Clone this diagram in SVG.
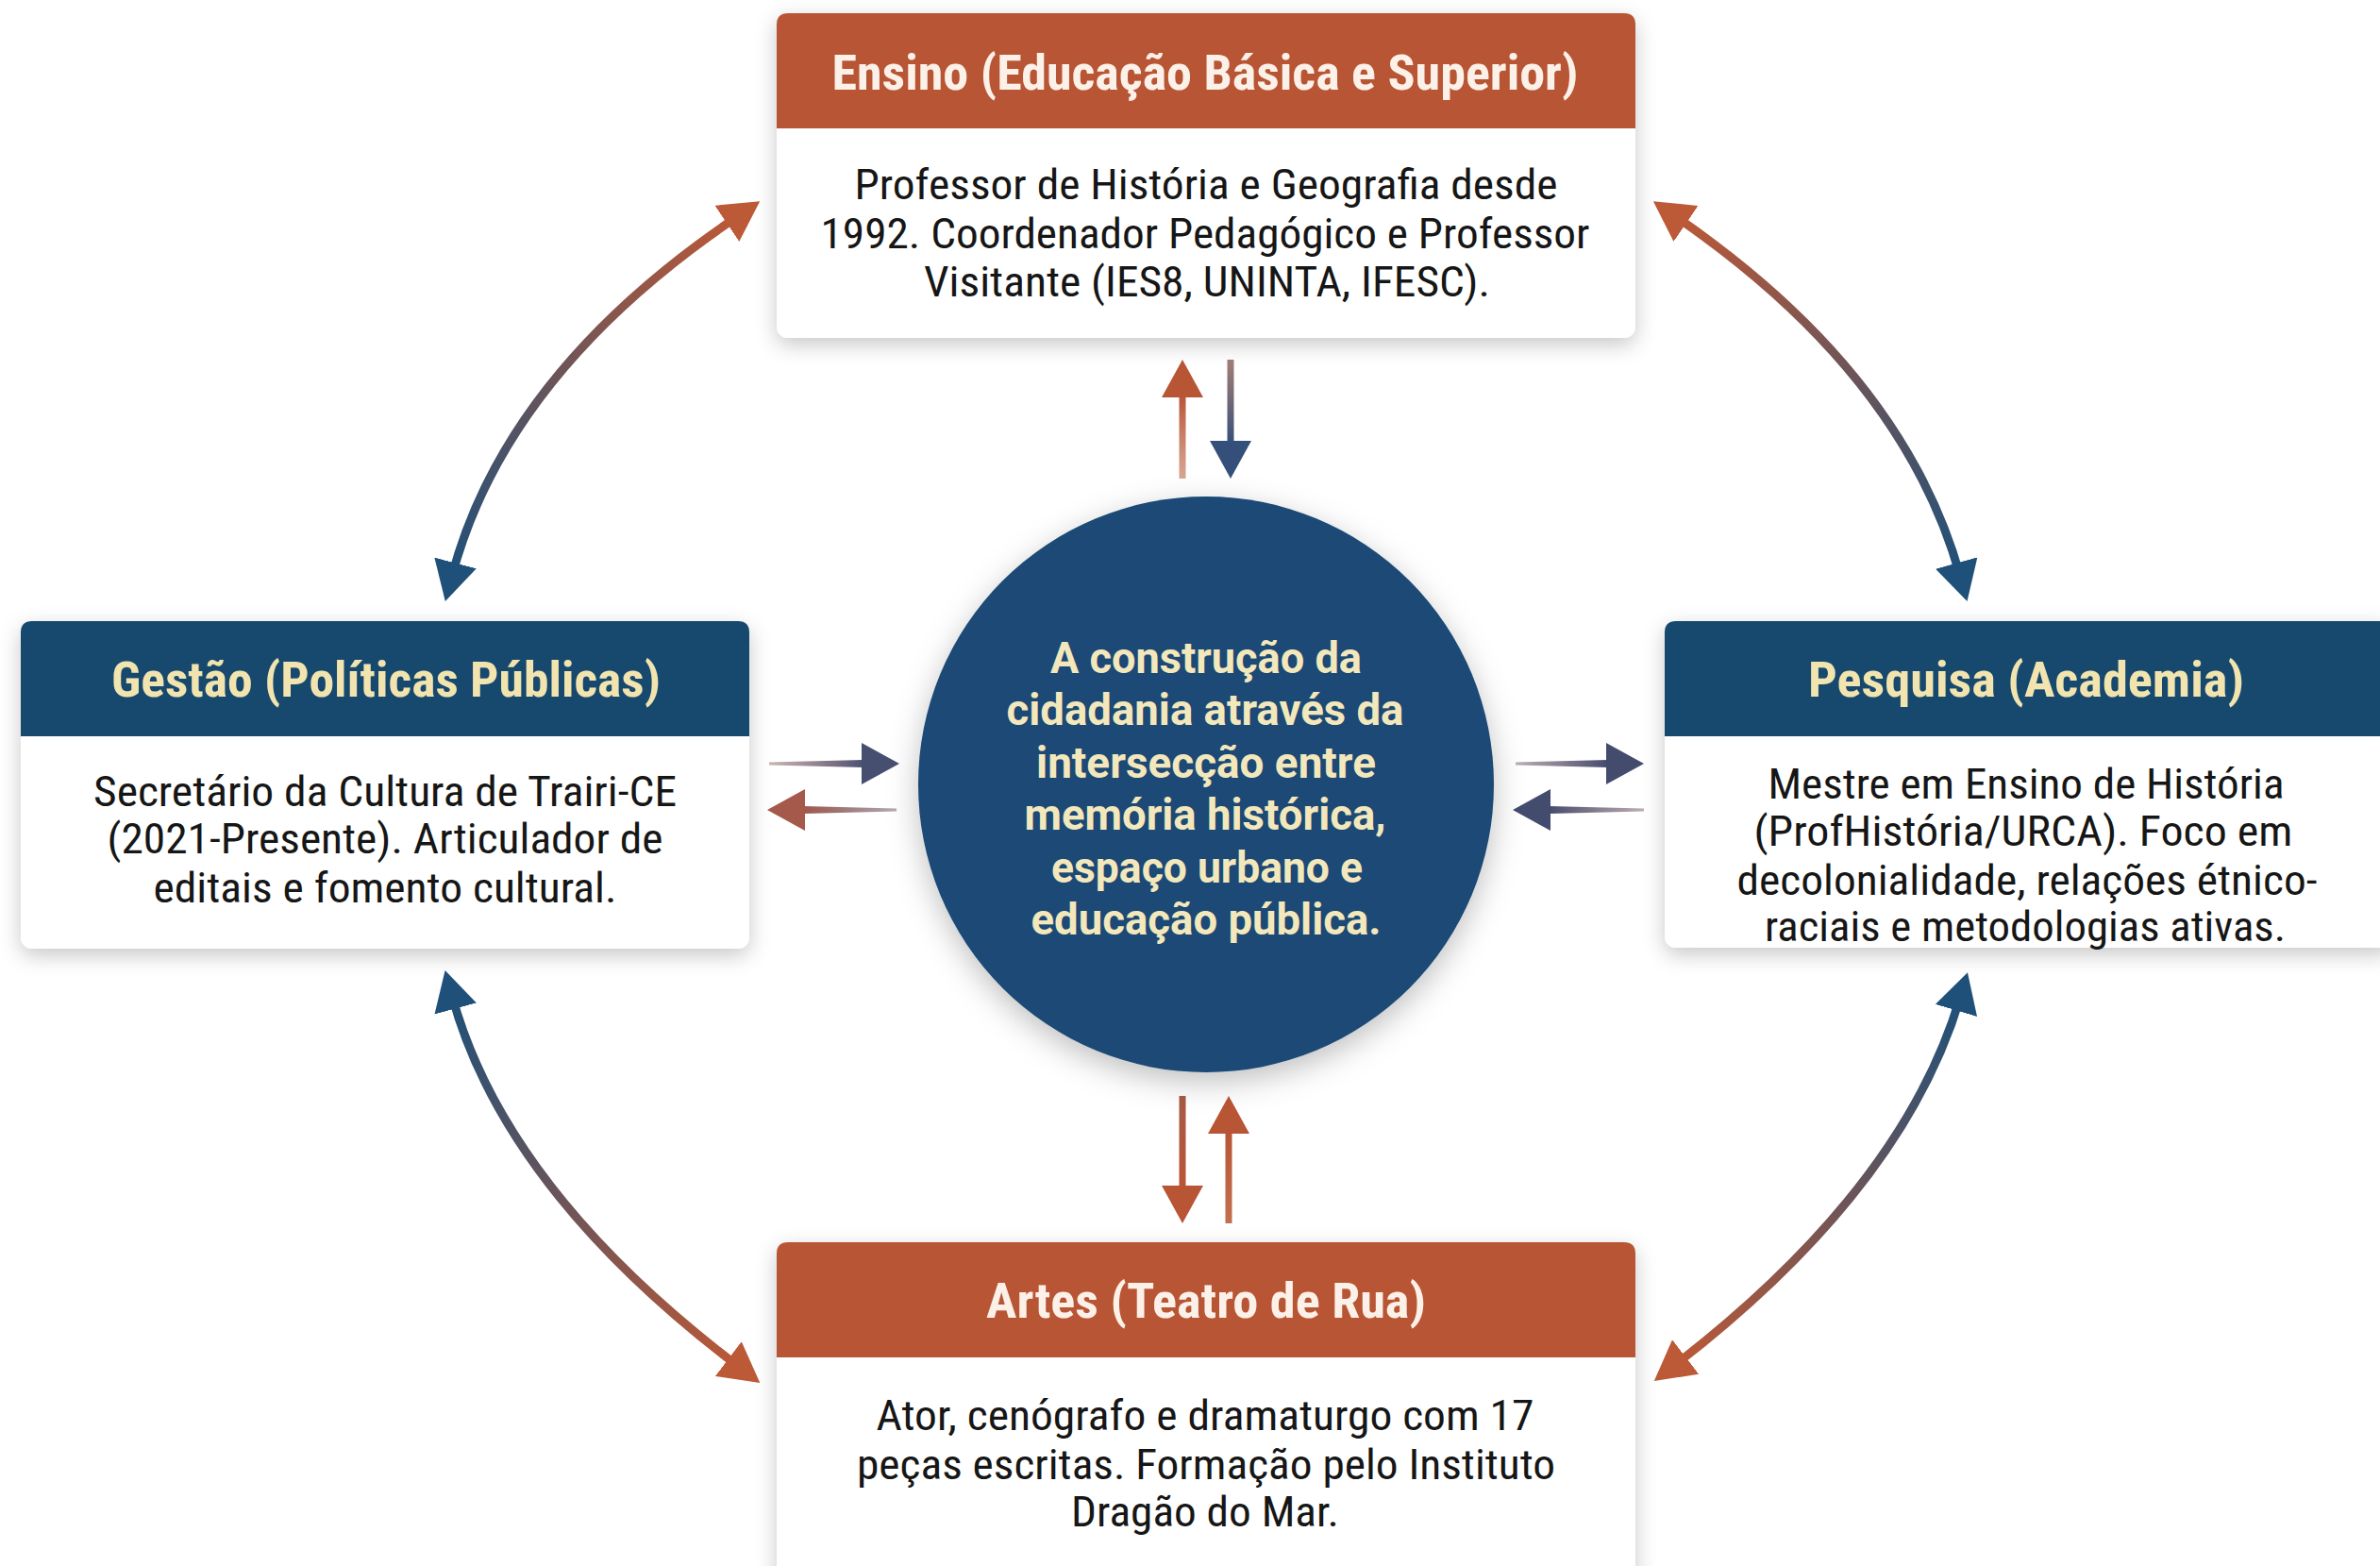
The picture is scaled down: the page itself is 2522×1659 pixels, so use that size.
<svg xmlns="http://www.w3.org/2000/svg" width="2522" height="1659" viewBox="0 0 2522 1659">
<defs>
<style>
.t{font-family:"Roboto Condensed","Liberation Sans Narrow",Roboto,"Liberation Sans",sans-serif;font-weight:700;font-size:52px;text-anchor:middle}
.tw{fill:#FCF1E8}
.tc{fill:#F2E4AF}
.b{font-family:"Roboto Condensed","Liberation Sans Narrow",Roboto,"Liberation Sans",sans-serif;font-weight:400;font-size:44px;fill:#161616;text-anchor:middle}
.c{font-family:Roboto,"Liberation Sans",sans-serif;font-weight:700;font-size:46px;fill:#F3E7BC;text-anchor:middle}
.card{fill:#FFFFFF;filter:url(#sh)}
.ho{fill:#B85535}
.hb{fill:#17496F}
.arc{fill:none;stroke-width:9;marker-start:url(#mb);marker-end:url(#mo)}
</style>
<filter id="sh" x="-10%" y="-10%" width="120%" height="130%">
<feDropShadow dx="0" dy="7" stdDeviation="11" flood-color="#000" flood-opacity="0.22"/>
</filter>
<filter id="shc" x="-20%" y="-20%" width="140%" height="140%">
<feDropShadow dx="0" dy="10" stdDeviation="16" flood-color="#000" flood-opacity="0.25"/>
</filter>
<marker id="mb" markerUnits="userSpaceOnUse" markerWidth="42" markerHeight="46" viewBox="0 0 42 46" refX="14" refY="23" orient="auto-start-reverse">
<path d="M0,0 L42,23 L0,46 z" fill="#1F5079"/>
</marker>
<marker id="mo" markerUnits="userSpaceOnUse" markerWidth="42" markerHeight="46" viewBox="0 0 42 46" refX="14" refY="23" orient="auto-start-reverse">
<path d="M0,0 L42,23 L0,46 z" fill="#BC5937"/>
</marker>
<linearGradient id="g1" gradientUnits="userSpaceOnUse" x1="479" y1="610" x2="782" y2="229"><stop offset="0" stop-color="#1F5079"/><stop offset="1" stop-color="#BC5937"/></linearGradient>
<linearGradient id="g2" gradientUnits="userSpaceOnUse" x1="2077" y1="610" x2="1775" y2="229"><stop offset="0" stop-color="#1F5079"/><stop offset="1" stop-color="#BC5937"/></linearGradient>
<linearGradient id="g3" gradientUnits="userSpaceOnUse" x1="479" y1="1055" x2="783" y2="1448"><stop offset="0" stop-color="#1F5079"/><stop offset="1" stop-color="#BC5937"/></linearGradient>
<linearGradient id="g4" gradientUnits="userSpaceOnUse" x1="2077" y1="1057" x2="1775" y2="1446"><stop offset="0" stop-color="#1F5079"/><stop offset="1" stop-color="#BC5937"/></linearGradient>
<linearGradient id="vo" x1="0" y1="0" x2="0" y2="1"><stop offset="0" stop-color="#B85535"/><stop offset="1" stop-color="#C98870" stop-opacity="0.75"/></linearGradient>
<linearGradient id="vb" x1="0" y1="0" x2="0" y2="1"><stop offset="0" stop-color="#8A5E55" stop-opacity="0.8"/><stop offset="1" stop-color="#34507A"/></linearGradient>
<linearGradient id="vo2" x1="0" y1="0" x2="0" y2="1"><stop offset="0" stop-color="#A65A47"/><stop offset="1" stop-color="#B85535"/></linearGradient>
<linearGradient id="vo3" x1="0" y1="0" x2="0" y2="1"><stop offset="0" stop-color="#B85535"/><stop offset="1" stop-color="#C2704F"/></linearGradient>
<linearGradient id="hr" x1="0" y1="0" x2="1" y2="0"><stop offset="0" stop-color="#8A5A5A" stop-opacity="0.45"/><stop offset="1" stop-color="#4A5072"/></linearGradient>
<linearGradient id="hl" x1="0" y1="0" x2="1" y2="0"><stop offset="0" stop-color="#A05848"/><stop offset="1" stop-color="#5A4458" stop-opacity="0.45"/></linearGradient>
<linearGradient id="hr2" x1="0" y1="0" x2="1" y2="0"><stop offset="0" stop-color="#6A4A5E" stop-opacity="0.45"/><stop offset="1" stop-color="#434C6D"/></linearGradient>
<linearGradient id="hl2" x1="0" y1="0" x2="1" y2="0"><stop offset="0" stop-color="#434C6D"/><stop offset="1" stop-color="#6A4A58" stop-opacity="0.45"/></linearGradient>
</defs>

<rect x="0" y="0" width="2522" height="1659" fill="#FFFFFF"/>

<g id="connectors">
<path class="arc" stroke="url(#g1)" d="M479,610 Q536,395 782,229"/>
<path class="arc" stroke="url(#g2)" d="M2077,610 Q2017,395 1775,229"/>
<path class="arc" stroke="url(#g3)" d="M479,1055 Q535,1260 783,1448"/>
<path class="arc" stroke="url(#g4)" d="M2077,1057 Q2017,1259 1775,1446"/>

<!-- top pair -->
<rect x="1249.5" y="419" width="7" height="88" fill="url(#vo)"/>
<polygon points="1253,381 1231,421 1275,421" fill="#B85535"/>
<rect x="1300.5" y="381" width="7" height="88" fill="url(#vb)"/>
<polygon points="1304,507 1282,467 1326,467" fill="#34507A"/>

<!-- bottom pair -->
<rect x="1249.5" y="1161" width="7" height="97" fill="url(#vo2)"/>
<polygon points="1253,1296 1231,1256 1275,1256" fill="#B85535"/>
<rect x="1298.5" y="1199" width="7" height="97" fill="url(#vo3)"/>
<polygon points="1302,1161 1280,1201 1324,1201" fill="#B85535"/>

<!-- left pair -->
<polygon points="815,807.5 915,805 915,813 815,810.5" fill="url(#hr)"/>
<polygon points="953,809 913,787 913,831" fill="#474F70"/>
<polygon points="851,854 950,856.5 950,859.5 851,862" fill="url(#hl)"/>
<polygon points="813,858 853,836 853,880" fill="#A5594A"/>

<!-- right pair -->
<polygon points="1606,807.5 1704,805 1704,813 1606,810.5" fill="url(#hr2)"/>
<polygon points="1742,809 1702,787 1702,831" fill="#434C6D"/>
<polygon points="1641,854 1742,856.5 1742,859.5 1641,862" fill="url(#hl2)"/>
<polygon points="1603,858 1643,836 1643,880" fill="#434C6D"/>
</g>

<g id="center">
<circle cx="1278" cy="831" r="305" fill="#1A4A74" filter="url(#shc)"/>
<text class="c" x="1278" y="713" textLength="330" lengthAdjust="spacingAndGlyphs">A construção da</text>
<text class="c" x="1277" y="768" textLength="421" lengthAdjust="spacingAndGlyphs">cidadania através da</text>
<text class="c" x="1278" y="824" textLength="360" lengthAdjust="spacingAndGlyphs">intersecção entre</text>
<text class="c" x="1277" y="879" textLength="383" lengthAdjust="spacingAndGlyphs">memória histórica,</text>
<text class="c" x="1279" y="935" textLength="330" lengthAdjust="spacingAndGlyphs">espaço urbano e</text>
<text class="c" x="1278" y="990" textLength="371" lengthAdjust="spacingAndGlyphs">educação pública.</text>
</g>

<g id="ensino">
<rect class="card" x="823" y="14" width="910" height="344" rx="12"/>
<path class="ho" d="M823,136 V26 Q823,14 835,14 H1721 Q1733,14 1733,26 V136 Z"/>
<text class="t tw" x="1277" y="95" textLength="791" lengthAdjust="spacingAndGlyphs">Ensino (Educação Básica e Superior)</text>
<text class="b" x="1278" y="211" textLength="745" lengthAdjust="spacingAndGlyphs">Professor de História e Geografia desde</text>
<text class="b" x="1277" y="263" textLength="815" lengthAdjust="spacingAndGlyphs">1992. Coordenador Pedagógico e Professor</text>
<text class="b" x="1279" y="314" textLength="600" lengthAdjust="spacingAndGlyphs">Visitante (IES8, UNINTA, IFESC).</text>
</g>

<g id="gestao">
<rect class="card" x="22" y="658" width="772" height="347" rx="12"/>
<path class="hb" d="M22,780 V670 Q22,658 34,658 H782 Q794,658 794,670 V780 Z"/>
<text class="t tc" x="409" y="738" textLength="582" lengthAdjust="spacingAndGlyphs">Gestão (Políticas Públicas)</text>
<text class="b" x="408" y="854" textLength="618" lengthAdjust="spacingAndGlyphs">Secretário da Cultura de Trairi-CE</text>
<text class="b" x="408" y="904" textLength="589" lengthAdjust="spacingAndGlyphs">(2021-Presente). Articulador de</text>
<text class="b" x="408" y="956" textLength="491" lengthAdjust="spacingAndGlyphs">editais e fomento cultural.</text>
</g>

<g id="pesquisa">
<rect class="card" x="1764" y="658" width="772" height="346" rx="12"/>
<path class="hb" d="M1764,780 V670 Q1764,658 1776,658 H2524 Q2536,658 2536,670 V780 Z"/>
<text class="t tc" x="2147" y="738" textLength="462" lengthAdjust="spacingAndGlyphs">Pesquisa (Academia)</text>
<text class="b" x="2147" y="846" textLength="547" lengthAdjust="spacingAndGlyphs">Mestre em Ensino de História</text>
<text class="b" x="2144" y="896" textLength="571" lengthAdjust="spacingAndGlyphs">(ProfHistória/URCA). Foco em</text>
<text class="b" x="2148" y="948" textLength="615" lengthAdjust="spacingAndGlyphs">decolonialidade, relações étnico-</text>
<text class="b" x="2146" y="997" textLength="552" lengthAdjust="spacingAndGlyphs">raciais e metodologias ativas.</text>
</g>

<g id="artes">
<rect class="card" x="823" y="1316" width="910" height="370" rx="12"/>
<path class="ho" d="M823,1438 V1328 Q823,1316 835,1316 H1721 Q1733,1316 1733,1328 V1438 Z"/>
<text class="t tw" x="1278" y="1396" textLength="466" lengthAdjust="spacingAndGlyphs">Artes (Teatro de Rua)</text>
<text class="b" x="1277" y="1515" textLength="697" lengthAdjust="spacingAndGlyphs">Ator, cenógrafo e dramaturgo com 17</text>
<text class="b" x="1278" y="1567" textLength="740" lengthAdjust="spacingAndGlyphs">peças escritas. Formação pelo Instituto</text>
<text class="b" x="1277" y="1617" textLength="284" lengthAdjust="spacingAndGlyphs">Dragão do Mar.</text>
</g>
</svg>
